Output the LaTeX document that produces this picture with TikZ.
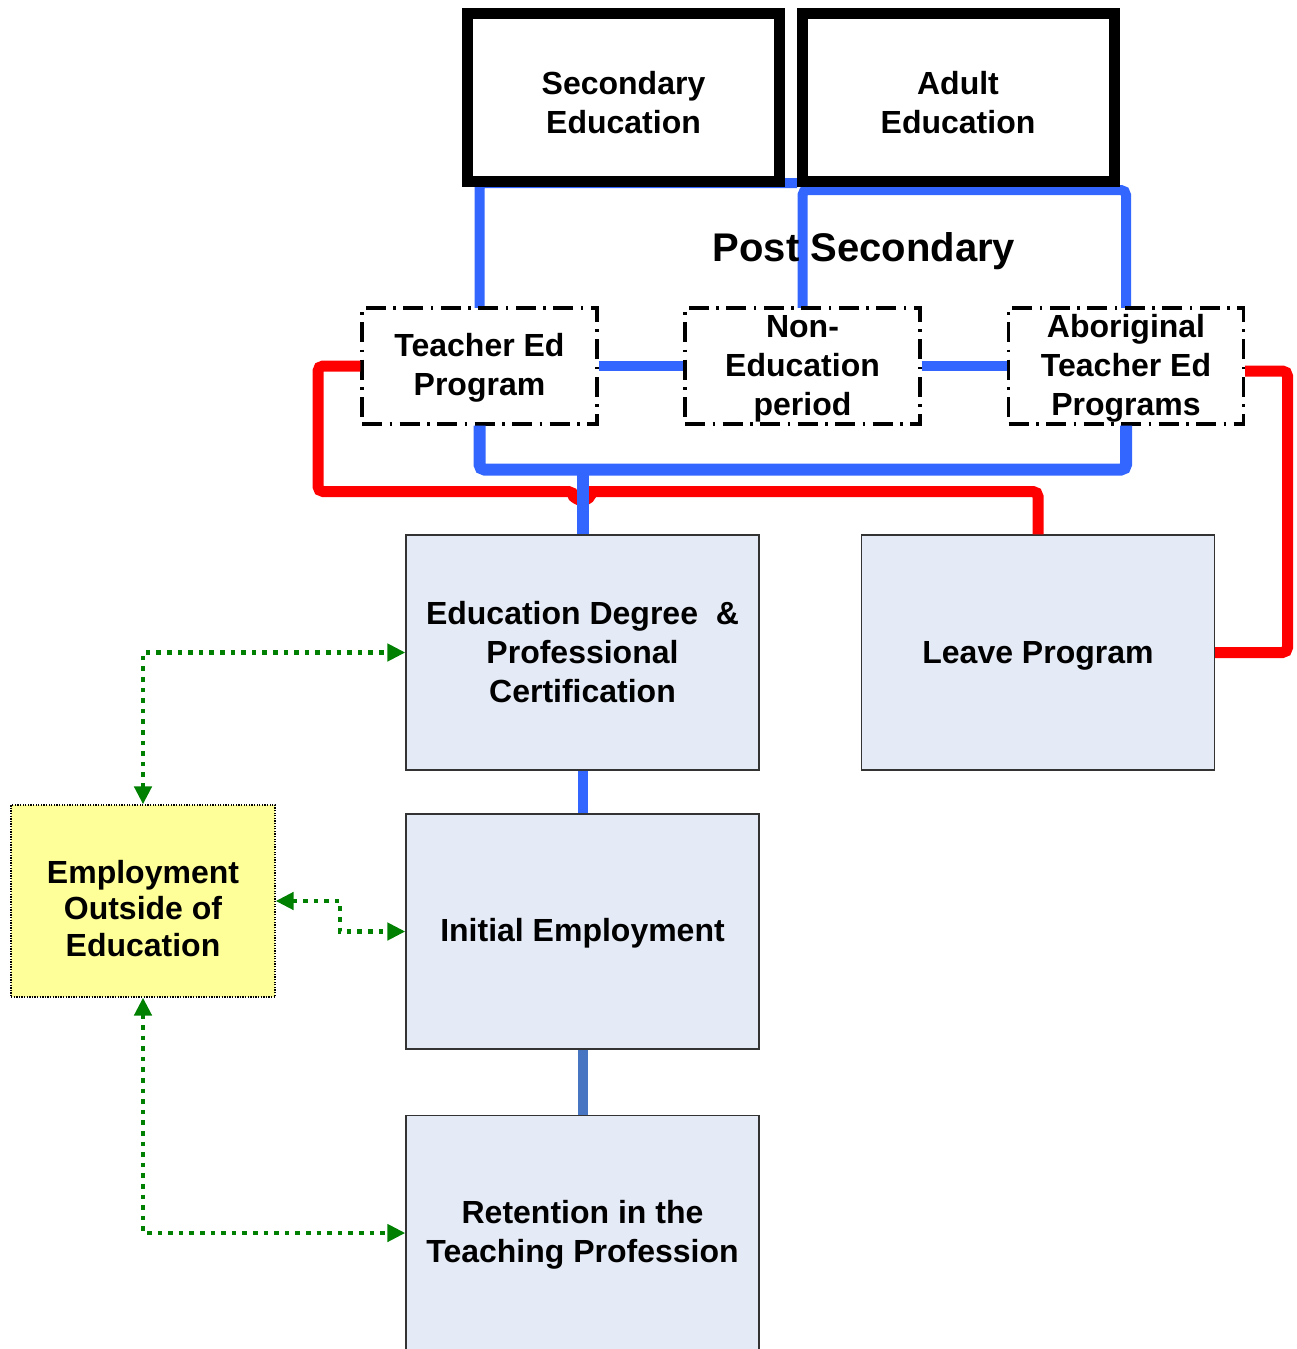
\documentclass[tikz,border=0pt]{standalone}
\usepackage{fontspec}
\setmainfont{Liberation Sans}
\usetikzlibrary{arrows.meta}
\definecolor{linkblue}{HTML}{3366FF}
\definecolor{steelblue}{HTML}{4775C2}
\definecolor{stopred}{HTML}{FF0000}
\definecolor{altgreen}{HTML}{008000}
\definecolor{stagefill}{HTML}{E5EBF6}
\definecolor{outfill}{HTML}{FFFF99}
\tikzset{
	label font/.style={font=\bfseries\fontsize{32}{39}\selectfont},
	entrybox/.style={label font, draw=black, line width=11pt, fill=white, minimum width=312pt, minimum height=168pt, inner sep=0pt, align=center, text height=72pt},
	programbox/.style={label font, draw=black, line width=3.3pt, dash pattern=on 20pt off 7.5pt on 2.5pt off 7.5pt, fill=white, minimum width=235pt, minimum height=116pt, inner sep=0pt, align=center, text height=106pt},
	stagebox/.style={label font, draw=black!80, line width=1.3pt, fill=stagefill, minimum width=353pt, minimum height=235pt, inner sep=0pt, align=center, text height=27.5pt},
	outsidebox/.style={font=\bfseries\fontsize{32}{36.5}\selectfont, draw=black, line width=1.2pt, dash pattern=on 1.3pt off 1.3pt, fill=outfill, minimum width=264pt, minimum height=192pt, inner sep=0pt, align=center, text height=111pt},
	blueline/.style={draw=linkblue, line width=10pt, rounded corners=5pt},
	redline/.style={draw=stopred, line width=11pt, rounded corners=5pt},
	greenlink/.style={draw=altgreen, line width=4.6pt, dash pattern=on 4.6pt off 6pt, {Triangle[length=18pt,width=17pt]}-{Triangle[length=18pt,width=17pt]}}
}
\begin{document}
\begin{tikzpicture}[x=1pt,y=-1pt]
		\useasboundingbox (0,0) rectangle (1296,1349);
		\coordinate (left join) at (797,183);
		\draw[blueline] (479.5,308) |- (left join);
		\draw[blueline] (802.5,308) -- (802.5,190) -| (1126,308);
		\node[entrybox] (secondary) at (623.5,97.5) {Secondary\\Education};
		\node[entrybox] (adult) at (958,97.5) {Adult\\Education};
		\node[font=\bfseries\fontsize{40}{46}\selectfont, text height=37pt] (post) at (864,247) {Post Secondary};
		\node[programbox, text height=66pt] (tedprog) at (479.5,366) {Teacher Ed\\Program};
		\node[programbox] (nonedu) at (802.5,366) {Non-\\Education\\period};
		\node[programbox] (aborig) at (1126,366) {Aboriginal\\Teacher Ed\\Programs};
		\draw[blueline] (tedprog.east) -- (nonedu.west);
		\draw[blueline] (nonedu.east) -- (aborig.west);
		\node[stagebox, text height=99.5pt] (degree) at (582.5,652.5) {Education Degree\ \ \&\\Professional\\Certification};
		\node[stagebox, text height=28pt] (leave) at (1038,652.5) {Leave Program};
		\node[stagebox] (initial) at (582.5,931.5) {Initial Employment};
		\node[stagebox, text height=66pt] (retention) at (582.5,1233) {Retention in the\\Teaching Profession};
		\node[outsidebox] (outside) at (143,901) {Employment\\Outside of\\Education};
		\draw[redline] (tedprog.west) -| (318,491.5) -- (573.5,491.5) [sharp corners] arc[start angle=180,end angle=0,radius=9] [rounded corners=5pt] -| (leave.north);
		\draw[redline] ([yshift=-5pt]aborig.east) -| (1287.5,600) |- (leave.east);
		\draw[blueline, line width=12pt] (tedprog.south) |- (1126,469.5) -- (aborig.south);
		\draw[blueline, line width=12pt, rounded corners=0pt] (582.5,469.5) -- (degree.north);
		\draw[draw=linkblue, line width=10pt] (degree.south) -- (initial.north);
		\draw[draw=steelblue, line width=10pt] (initial.south) -- (retention.north);
		\draw[greenlink] (outside.north) |- (degree.west);
		\draw[greenlink] (outside.east) -- (340,901) |- (initial.west);
		\draw[greenlink] (outside.south) |- (retention.west);
	\end{tikzpicture}
\end{document}
